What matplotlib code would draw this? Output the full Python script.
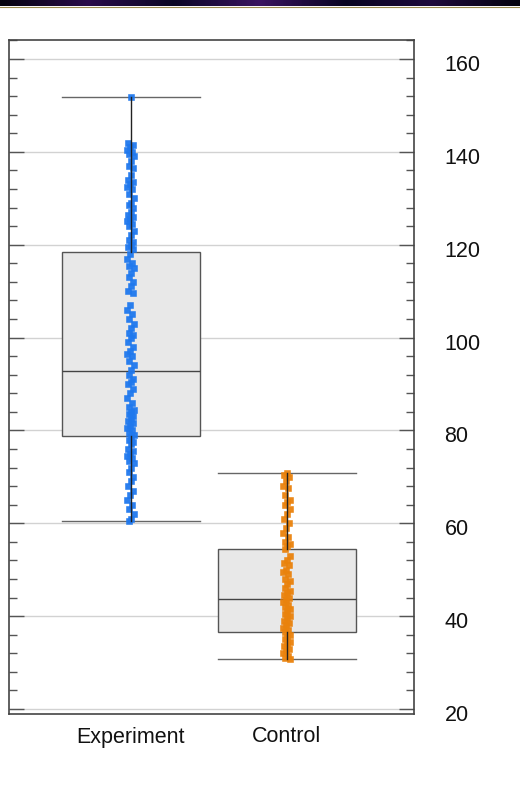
import matplotlib
matplotlib.use("Agg")
import matplotlib.pyplot as plt
import numpy as np
from matplotlib.ticker import MultipleLocator
from matplotlib.colors import LinearSegmentedColormap
from matplotlib.transforms import ScaledTranslation

plt.rcParams['font.family'] = ['Liberation Sans', 'DejaVu Sans']

categories = ["Experiment", "Control"]

experiment_values = [
    151.8,
    142, 141.5, 141, 140.5, 140, 139.5, 139, 138,
    137, 136.5, 135, 134, 133.5, 133, 132.5, 132, 131,
    130, 129, 128.5, 128, 127, 126.5, 126, 125.5, 125, 124.5, 124, 123, 122,
    121, 120.5, 120, 119.5, 119, 118, 117, 116, 115.5, 115, 114, 113, 112,
    111, 110, 109.5,
    107, 106, 105, 104, 103, 102, 101, 100.5, 100, 99, 98, 97, 96.5, 96, 95,
    94, 93, 92, 91, 90.5, 90, 89, 88, 87, 86, 85, 84.5, 84, 83.5, 83, 82.5,
    82, 81.5, 81, 80.5, 80, 79.5, 79, 78.5, 78, 77.5, 77, 76, 75.5, 75, 74.5,
    74, 73.5, 73, 72, 71, 70, 69, 68, 67, 66, 65, 64, 63, 62, 61, 60.4,
]

control_values = [
    70.8, 70.5, 70, 69, 68, 67.5, 66, 65, 64.5, 64, 63, 62, 61, 60, 59, 58,
    57, 56, 55.5, 55, 54.5, 53, 52, 51.5, 51, 50, 49.5, 49, 48, 47.5, 47, 46,
    45.5, 45, 44.5, 44, 43.5, 43, 42.5, 42, 41.5, 41, 40.5, 40, 39.5, 39,
    38.5, 38, 37.5, 37, 36.5, 36, 35.5, 35, 34.5, 34, 33.5, 33, 32.5, 32,
    31.5, 31, 30.8,
]

# box statistics
q1_values = [78.7, 36.6]
median_values = [92.7, 43.7]
q3_values = [118.5, 54.4]
whisker_low = [60.4, 30.8]
whisker_high = [151.8, 70.8]

point_colors = ["#1f78ee", "#ea820c"]

y_ticks = [20, 40, 60, 80, 100, 120, 140, 160]

fig = plt.figure(figsize=(5.2, 7.91), dpi=100)
fig.patch.set_facecolor("white")

# dark decorative band at the top
band = fig.add_axes([0, 1 - 6 / 791, 1, 6 / 791])
cmap = LinearSegmentedColormap.from_list(
    "band", ["#05030f", "#2a0c4a", "#0a0625", "#3a1460", "#080420", "#1e0a3c", "#05030f"])
band.imshow(np.linspace(0, 1, 200)[None, :], aspect="auto", cmap=cmap)
band.axis("off")
fig.add_artist(plt.Line2D([0, 1], [1 - 6.5 / 791, 1 - 6.5 / 791],
                          transform=fig.transFigure, color="#9c8c50", lw=0.8))

ax = fig.add_axes([9 / 520, 1 - 714 / 791, 405 / 520, 674 / 791])

positions = np.arange(len(categories))
stats = []
for i, name in enumerate(categories):
    stats.append(dict(label=name, med=median_values[i], q1=q1_values[i],
                      q3=q3_values[i], whislo=whisker_low[i],
                      whishi=whisker_high[i], fliers=[]))

width = 0.885
res = ax.bxp(stats, positions=positions, widths=width, capwidths=width,
             patch_artist=True, showfliers=False,
             boxprops=dict(facecolor="#e8e8e8", edgecolor="#555555", lw=1.0),
             whiskerprops=dict(color="#222222", lw=1.0),
             capprops=dict(color="#666666", lw=1.0),
             medianprops=dict(color="#444444", lw=1.0))
for b in res["boxes"]:
    b.set_zorder(1)
for m in res["medians"]:
    m.set_zorder(1.5)
for w in res["whiskers"]:
    w.set_zorder(4)
for c in res["caps"]:
    c.set_zorder(1.5)

for i, vals in enumerate([experiment_values, control_values]):
    n = len(vals)
    jitter = np.array([((k * 7 + 5) % 11 - 5) / 5.0 for k in range(n)]) * 0.022
    ax.plot(positions[i] + jitter, vals, linestyle="none", marker="s",
            markersize=5.0, color=point_colors[i], markeredgewidth=0.4,
            markeredgecolor=point_colors[i], alpha=0.95, zorder=3)

ax.set_xlim(-0.78, 1.815)
ax.set_ylim(18.92, 164.09)
ax.set_xticks(positions)
ax.set_xticklabels(categories, fontsize=15.5, color="#111111")
ax.tick_params(axis="x", length=0, pad=9)

ax.yaxis.set_major_locator(MultipleLocator(20))
ax.yaxis.set_minor_locator(MultipleLocator(4))
ax.set_yticks(y_ticks)
ax.tick_params(axis="y", which="both", direction="in", left=True, right=True,
               labelleft=False, labelright=True, color="#555555")
ax.tick_params(axis="y", which="major", length=11, width=1.0, pad=22,
               labelsize=15.5, labelcolor="#111111")
ax.tick_params(axis="y", which="minor", length=6, width=1.0)

offset = ScaledTranslation(0, -4 / 100, fig.dpi_scale_trans)
for lbl in ax.get_yticklabels():
    lbl.set_transform(lbl.get_transform() + offset)

ax.yaxis.grid(True, which="major", color="#d2d2d2", lw=1.0)
ax.set_axisbelow(True)
for s in ax.spines.values():
    s.set_color("#444444")
    s.set_linewidth(1.2)

fig.savefig("out.png", dpi=100)
